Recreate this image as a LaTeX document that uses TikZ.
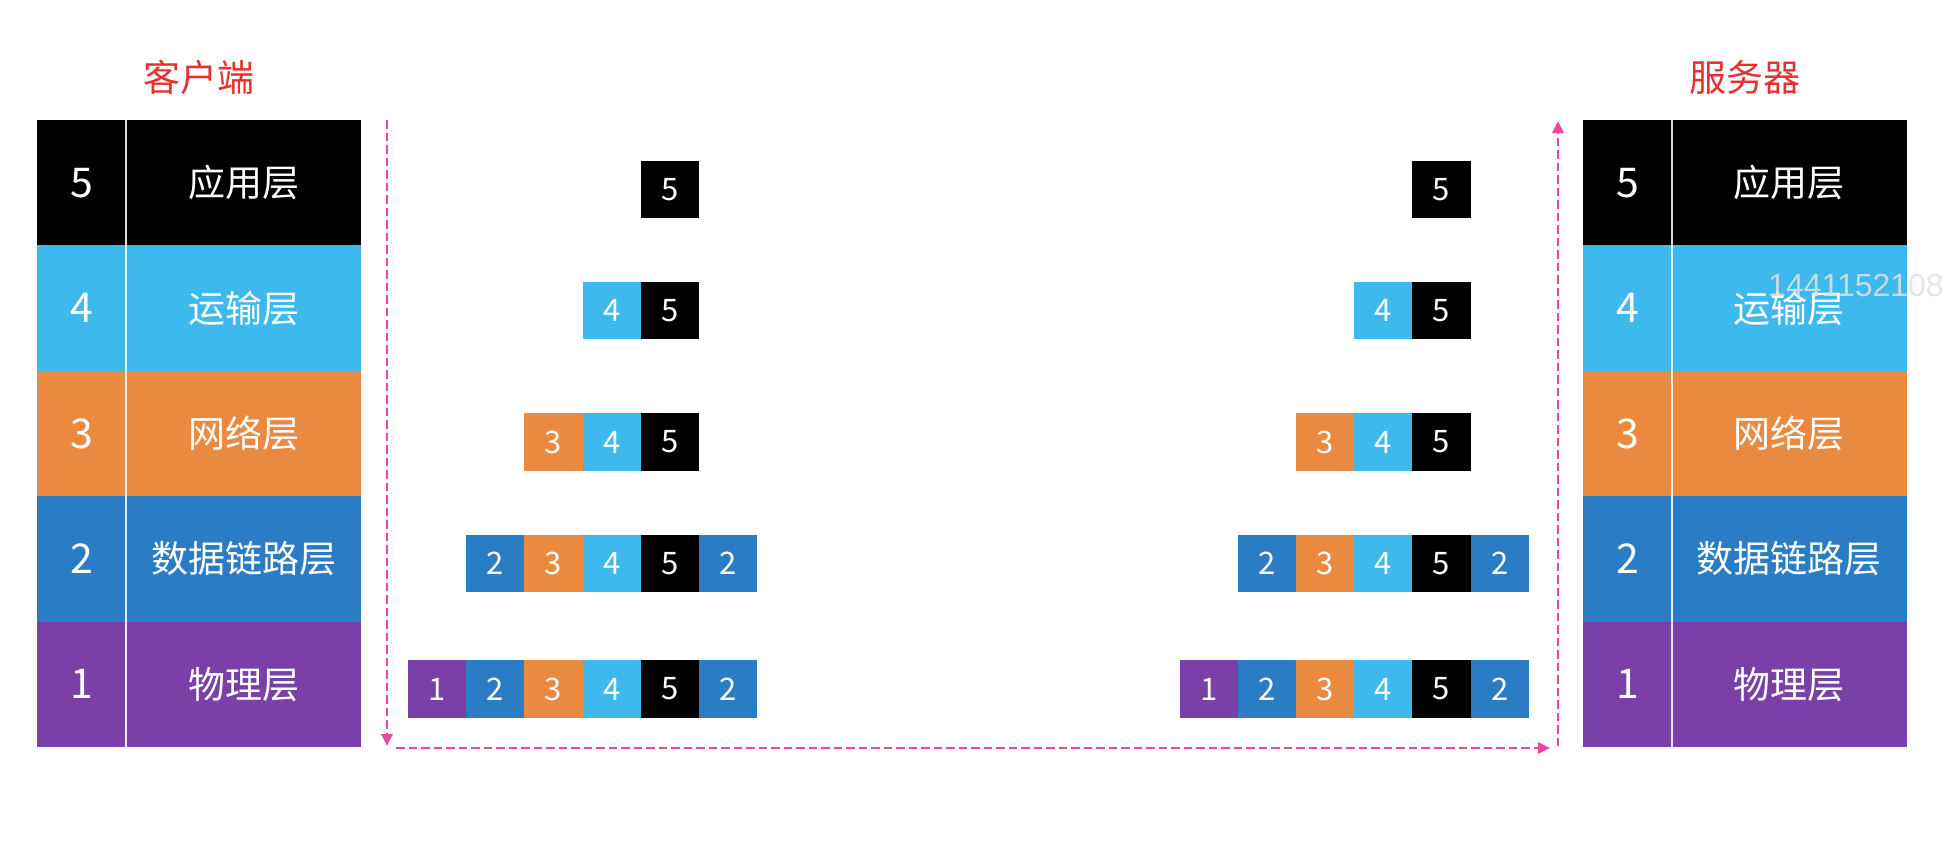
\documentclass[tikz,border=0pt]{standalone}
\usepackage{fontspec}
\setmainfont{Noto Sans CJK SC}
\newfontfamily\wmfont{Liberation Sans}
\usetikzlibrary{arrows.meta}
\definecolor{cA}{RGB}{0,0,0}
\definecolor{cT}{RGB}{61,185,237}
\definecolor{cN}{RGB}{234,138,64}
\definecolor{cD}{RGB}{42,125,196}
\definecolor{cP}{RGB}{122,64,168}
\definecolor{titlered}{RGB}{232,48,48}
\definecolor{dashpink}{RGB}{234,72,160}
\begin{document}
\begin{tikzpicture}[x=1pt,y=-1pt,
  cell/.style={inner sep=0pt, outer sep=0pt, minimum height=125.4pt, text=white,
    font=\fontsize{37}{40}\selectfont},
  numcell/.style={cell, minimum width=89pt, font=\fontsize{41}{44}\selectfont},
  namecell/.style={cell, minimum width=235pt},
  pk/.style={inner sep=0pt, outer sep=0pt, minimum width=58.2pt, minimum height=57.5pt,
    text=white, font=\fontsize{31}{32}\selectfont},
  divider/.style={white, opacity=0.85, line width=2pt},
  flow/.style={dashpink, line width=2.6pt, dash pattern=on 8.5pt off 4pt,
    -{Triangle[length=12pt,width=11pt]}},
  titletext/.style={text=titlered, font=\fontsize{37}{40}\selectfont, inner sep=0pt},
]
\useasboundingbox (0,0) rectangle (1944,854);
\fill[white] (0,0) rectangle (1944,854);

% titles
\node[titletext] (tL) at (199,77) {客户端};
\node[titletext] (tR) at (1745,77) {服务器};

% layer stacks
\foreach \n/\lab/\c [count=\i from 0] in {5/应用层/cA, 4/运输层/cT, 3/网络层/cN, 2/数据链路层/cD, 1/物理层/cP}{
  \pgfmathsetmacro{\yy}{182.7+125.4*\i}
  \node[numcell, fill=\c] (Ln\n) at (81.5,\yy) {\n};
  \node[namecell, fill=\c] (Lm\n) at (243.5,\yy) {\lab};
  \node[numcell, fill=\c] (Rn\n) at (1627.5,\yy) {\n};
  \node[namecell, fill=\c] (Rm\n) at (1789,\yy) {\lab};
}
\draw[divider] (Ln5.north east) -- (Ln1.south east);
\draw[divider] (Rn5.north east) -- (Rn1.south east);

% packets
\foreach \side/\off in {L/0, R/771.5}{
  % row 5
  \node[pk, fill=cA] (\side p5c5) at (669.9+\off,189.5) {5};
  % row 4
  \node[pk, fill=cT] (\side p4c4) at (611.7+\off,310.5) {4};
  \node[pk, fill=cA] (\side p4c5) at (669.9+\off,310.5) {5};
  % row 3
  \node[pk, fill=cN] (\side p3c3) at (553.5+\off,442) {3};
  \node[pk, fill=cT] (\side p3c4) at (611.7+\off,442) {4};
  \node[pk, fill=cA] (\side p3c5) at (669.9+\off,442) {5};
  % row 2
  \node[pk, fill=cD] (\side p2c2) at (495.3+\off,563.5) {2};
  \node[pk, fill=cN] (\side p2c3) at (553.5+\off,563.5) {3};
  \node[pk, fill=cT] (\side p2c4) at (611.7+\off,563.5) {4};
  \node[pk, fill=cA] (\side p2c5) at (669.9+\off,563.5) {5};
  \node[pk, fill=cD] (\side p2c6) at (728.1+\off,563.5) {2};
  % row 1
  \node[pk, fill=cP] (\side p1c1) at (437.1+\off,689) {1};
  \node[pk, fill=cD] (\side p1c2) at (495.3+\off,689) {2};
  \node[pk, fill=cN] (\side p1c3) at (553.5+\off,689) {3};
  \node[pk, fill=cT] (\side p1c4) at (611.7+\off,689) {4};
  \node[pk, fill=cA] (\side p1c5) at (669.9+\off,689) {5};
  \node[pk, fill=cD] (\side p1c6) at (728.1+\off,689) {2};
}

% flow arrows
\coordinate (a1) at (387,120);
\coordinate (a2) at (387,746);
\coordinate (b1) at (396,748);
\coordinate (b2) at (1550,748);
\coordinate (c1) at (1558,746);
\coordinate (c2) at (1558,121);
\draw[flow] (a1) -- (a2);
\draw[flow] (b1) -- (b2);
\draw[flow] (c1) -- (c2);

% watermark
\node[anchor=west, inner sep=0pt, text={rgb,255:red,225;green,225;blue,225}, opacity=0.85,
  font=\wmfont\fontsize{32}{34}\selectfont] (wm) at (1768,285) {1441152108};
\end{tikzpicture}
\end{document}
